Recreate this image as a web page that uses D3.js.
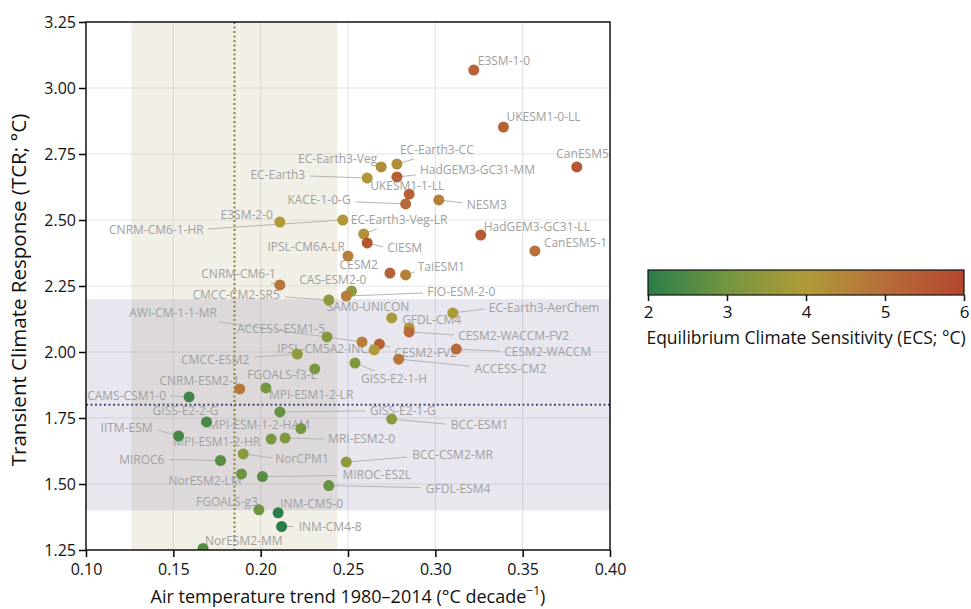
<!DOCTYPE html>
<html>
<head>
<meta charset="utf-8">
<script src="https://cdn.jsdelivr.net/npm/d3@7"></script>
<style>
  body { margin: 0; background: #fff; }
  text { font-family: "Open Sans", sans-serif; }
</style>
</head>
<body>
<div id="wrapper"></div>
<script>
const models = ["E3SM-1-0", "UKESM1-0-LL", "CanESM5", "EC-Earth3-CC", "EC-Earth3-Veg", "EC-Earth3",
  "HadGEM3-GC31-MM", "UKESM1-1-LL", "KACE-1-0-G", "NESM3", "HadGEM3-GC31-LL", "CanESM5-1",
  "E3SM-2-0", "CNRM-CM6-1-HR", "EC-Earth3-Veg-LR", "CIESM", "IPSL-CM6A-LR", "CESM2", "TaiESM1",
  "CNRM-CM6-1", "CAS-ESM2-0", "FIO-ESM-2-0", "CMCC-CM2-SR5", "EC-Earth3-AerChem", "SAM0-UNICON",
  "GFDL-CM4", "CESM2-WACCM-FV2", "ACCESS-ESM1-5", "AWI-CM-1-1-MR", "CESM2-FV2", "IPSL-CM5A2-INCA",
  "CESM2-WACCM", "CMCC-ESM2", "ACCESS-CM2", "GISS-E2-1-H", "FGOALS-f3-L", "CNRM-ESM2-1",
  "MPI-ESM1-2-LR", "CAMS-CSM1-0", "GISS-E2-1-G", "GISS-E2-2-G", "MPI-ESM-1-2-HAM", "BCC-ESM1",
  "IITM-ESM", "MPI-ESM1-2-HR", "MRI-ESM2-0", "NorCPM1", "MIROC6", "BCC-CSM2-MR", "NorESM2-LM",
  "MIROC-ES2L", "GFDL-ESM4", "FGOALS-g3", "INM-CM5-0", "INM-CM4-8", "NorESM2-MM"]

// air temperature trend 1980-2014 (degC per decade)
const airTrend = [0.322, 0.339, 0.381, 0.278, 0.269, 0.261,
  0.278, 0.285, 0.283, 0.302, 0.326, 0.357,
  0.211, 0.247, 0.259, 0.261, 0.250, 0.274, 0.283,
  0.211, 0.252, 0.249, 0.239, 0.310, 0.275,
  0.285, 0.285, 0.238, 0.258, 0.268, 0.265,
  0.312, 0.221, 0.279, 0.254, 0.231, 0.188,
  0.203, 0.159, 0.211, 0.169, 0.223, 0.275,
  0.153, 0.206, 0.214, 0.190, 0.177, 0.249, 0.189,
  0.201, 0.239, 0.199, 0.210, 0.212, 0.167]

// transient climate response (degC)
const tcr = [3.068, 2.852, 2.701, 2.712, 2.701, 2.659,
  2.663, 2.598, 2.561, 2.576, 2.443, 2.383,
  2.492, 2.500, 2.447, 2.413, 2.364, 2.299, 2.292,
  2.254, 2.231, 2.212, 2.197, 2.148, 2.129,
  2.091, 2.076, 2.057, 2.038, 2.030, 2.008,
  2.011, 1.992, 1.973, 1.958, 1.936, 1.860,
  1.864, 1.830, 1.773, 1.735, 1.710, 1.746,
  1.682, 1.670, 1.674, 1.614, 1.589, 1.583, 1.538,
  1.528, 1.494, 1.402, 1.391, 1.339, 1.256]

// equilibrium climate sensitivity (degC)
const ecs = [5.3, 5.3, 5.6, 4.3, 4.3, 4.1,
  5.4, 5.3, 5.1, 4.6, 5.5, 4.9,
  4.0, 4.1, 4.2, 5.6, 4.6, 5.3, 4.6,
  4.8, 3.5, 4.7, 3.4, 3.9, 3.9,
  4.1, 5.1, 3.3, 4.6, 5.3, 4.0,
  5.1, 3.5, 4.8, 3.2, 3.1, 4.8,
  3.0, 2.3, 2.8, 2.4, 3.0, 3.4,
  2.4, 3.1, 3.2, 3.4, 2.6, 3.5, 2.9,
  2.6, 2.8, 2.9, 2.0, 1.9, 2.6]

const xTicks = [0.10, 0.15, 0.20, 0.25, 0.30, 0.35, 0.40]
const yTicks = [1.25, 1.50, 1.75, 2.00, 2.25, 2.50, 2.75, 3.00, 3.25]
const ecsTicks = [2, 3, 4, 5, 6]
const ecsColors = ["#2b7e4c", "#74963f", "#b09a38", "#b86d3a", "#b4462f"]

const observedTrendRange = [0.126, 0.244]
const observedTrend = 0.185
const tcrRange = [1.40, 2.20]
const tcrBest = 1.80

// label placement relative to each marker (px): dx, dy, anchor, leader end dx, dy
const labelLayout = [
  [4, -9, "start"], [3, -10, "start"], [32, -13, "end"], [3, -14, "start", 17, -5],
  [-4, -8, "end"], [-62, -3, "end", -57, -2], [23, -7, "start", 19, -2], [-39, -8, "start"],
  [-55, -4, "end", -50, -2], [28, 5, "start", 24, 3], [3, -8, "start"], [9, -8, "start"],
  [-7, -7, "end"], [-139, 10, "end", -135, 9], [-13, -14, "start", 13, -5], [20, 5, "start", 16, 4],
  [-3, -9, "end"], [-12, -8, "end"], [12, -8, "start", 9, -3], [-4, -11, "end", -9, -2],
  [15, -11, "end"], [81, -4, "start", 77, -3], [-49, -5, "end", -44, -3], [36, -5, "start", 32, -4],
  [-65, -11, "start"], [-7, -8, "start"], [49, 4, "start", 45, 3], [-2, -8, "end"],
  [-145, -29, "end", -143, -20], [15, 9, "start", 11, 3], [-97, -1, "start"], [48, 3, "start", 44, 2],
  [-48, 6, "end", -43, 3], [76, 10, "start", 71, 7], [6, 16, "start", 20, 8], [2, 6, "end"],
  [0, -8, "end"], [3, 7, "start"], [-23, -1, "end", -19, -1], [90, -1, "start", 85, -1],
  [12, -11, "end"], [9, -4, "end"], [59, 6, "start", 54, 5], [-26, -8, "end", -21, -6],
  [-11, 3, "end"], [43, 1, "start", 40, 1], [32, 5, "start", 29, 4], [-56, -1, "end", -51, -1],
  [66, -7, "start", 61, -5], [0, 7, "end"], [80, -2, "start", 75, -1], [97, 3, "start", 92, 2],
  [-1, -8, "end"], [2, -9, "start"], [17, 0, "start", 12, 0], [2, -8, "start"]
]

function drawChart() {
    const dataset = models.map((m, i) => ({model: m, trend: airTrend[i], tcr: tcr[i], ecs: ecs[i], layout: labelLayout[i]}))
    const dimensions = createChartDimensions()
    const {svg, bounds} = drawCanvas(dimensions)
    const {xScale, yScale, colorScale} = createScales(dimensions)
    drawBands(xScale, yScale, bounds, dimensions)
    drawData(xScale, yScale, colorScale, bounds, dimensions, dataset)
    drawPeripherals(xScale, yScale, bounds, dimensions)
    drawColorbar(colorScale, svg)
}

function createChartDimensions() {
    let dimensions = {
        width: 971,
        height: 609,
        margin: {top: 22, right: 361, bottom: 59, left: 86},
    }
    dimensions.boundedWidth = dimensions.width - dimensions.margin.left - dimensions.margin.right
    dimensions.boundedHeight = dimensions.height - dimensions.margin.top - dimensions.margin.bottom
    return dimensions
}

function drawCanvas(dimensions) {
    const svg = d3.select("#wrapper")
        .append("svg")
        .attr("width", dimensions.width)
        .attr("height", dimensions.height)
    svg.append("defs").append("clipPath")
        .attr("id", "plot-clip")
        .append("rect")
        .attr("width", dimensions.boundedWidth)
        .attr("height", dimensions.boundedHeight)
    const bounds = svg.append("g")
        .attr("transform", `translate(${dimensions.margin.left},${dimensions.margin.top})`)
    return {svg, bounds}
}

function createScales(dimensions) {
    const xScale = d3.scaleLinear()
        .domain([0.10, 0.40])
        .range([0, dimensions.boundedWidth])
    const yScale = d3.scaleLinear()
        .domain([1.25, 3.25])
        .range([dimensions.boundedHeight, 0])
    const colorScale = d3.scaleLinear()
        .domain(ecsTicks)
        .range(ecsColors)
        .clamp(true)
    return {xScale, yScale, colorScale}
}

function drawBands(xScale, yScale, bounds, dimensions) {
    // grid first so the shading tints it
    bounds.append("g").selectAll("line")
        .data(xTicks.slice(1, -1))
        .join("line")
        .attr("x1", d => xScale(d)).attr("x2", d => xScale(d))
        .attr("y1", 0).attr("y2", dimensions.boundedHeight)
        .attr("stroke", "#e6e6e6").attr("stroke-width", 1.2)
    bounds.append("g").selectAll("line")
        .data(yTicks.slice(1, -1))
        .join("line")
        .attr("y1", d => yScale(d)).attr("y2", d => yScale(d))
        .attr("x1", 0).attr("x2", dimensions.boundedWidth)
        .attr("stroke", "#e6e6e6").attr("stroke-width", 1.2)

    bounds.append("rect")
        .attr("x", xScale(observedTrendRange[0]))
        .attr("width", xScale(observedTrendRange[1]) - xScale(observedTrendRange[0]))
        .attr("y", 0)
        .attr("height", dimensions.boundedHeight)
        .attr("fill", "rgba(200,188,150,0.24)")
    bounds.append("rect")
        .attr("x", 0)
        .attr("width", dimensions.boundedWidth)
        .attr("y", yScale(tcrRange[1]))
        .attr("height", yScale(tcrRange[0]) - yScale(tcrRange[1]))
        .attr("fill", "rgba(140,130,170,0.2)")

    bounds.append("line")
        .attr("x1", xScale(observedTrend)).attr("x2", xScale(observedTrend))
        .attr("y1", 0).attr("y2", dimensions.boundedHeight)
        .attr("stroke", "#8c8236").attr("stroke-width", 2)
        .attr("stroke-dasharray", "2,2.5")
    bounds.append("line")
        .attr("x1", 0).attr("x2", dimensions.boundedWidth)
        .attr("y1", yScale(tcrBest)).attr("y2", yScale(tcrBest))
        .attr("stroke", "#4b4878").attr("stroke-width", 2)
        .attr("stroke-dasharray", "2,2.5")
}

function drawData(xScale, yScale, colorScale, bounds, dimensions, dataset) {
    const layer = bounds.append("g").attr("clip-path", "url(#plot-clip)")
    const px = d => xScale(d.trend)
    const py = d => yScale(d.tcr)

    layer.append("g").selectAll("line")
        .data(dataset.filter(d => d.layout.length > 3))
        .join("line")
        .attr("x1", px)
        .attr("y1", py)
        .attr("x2", d => px(d) + d.layout[3])
        .attr("y2", d => py(d) + d.layout[4])
        .attr("stroke", "#b4b4b4")
        .attr("stroke-width", 1)

    layer.append("g").selectAll("text")
        .data(dataset)
        .join("text")
        .text(d => d.model)
        .attr("x", d => px(d) + d.layout[0])
        .attr("y", d => py(d) + d.layout[1])
        .attr("dy", "0.35em")
        .attr("text-anchor", d => d.layout[2])
        .attr("font-size", "12px")
        .attr("fill", "#a0a0a0")

    layer.append("g").selectAll("circle")
        .data(dataset)
        .join("circle")
        .attr("cx", px)
        .attr("cy", py)
        .attr("r", 5.5)
        .attr("fill", d => colorScale(d.ecs))
}

function drawPeripherals(xScale, yScale, bounds, dimensions) {
    const xAxis = bounds.append("g")
        .attr("transform", `translate(0,${dimensions.boundedHeight})`)
        .call(d3.axisBottom(xScale).tickValues(xTicks).tickFormat(d3.format(".2f")).tickSize(7).tickSizeOuter(0))
    const yAxis = bounds.append("g")
        .call(d3.axisLeft(yScale).tickValues(yTicks).tickFormat(d3.format(".2f")).tickSize(7).tickSizeOuter(0))
    for (const axis of [xAxis, yAxis]) {
        axis.select(".domain").remove()
        axis.selectAll(".tick line").attr("stroke", "#000").attr("stroke-width", 1.5)
        axis.selectAll(".tick text")
            .attr("font-family", "'Open Sans', sans-serif")
            .attr("font-size", "16px")
            .attr("fill", "#111")
    }
    xAxis.selectAll(".tick text").attr("dy", "0.95em")
    yAxis.selectAll(".tick text").attr("x", -10)

    bounds.append("rect")
        .attr("width", dimensions.boundedWidth)
        .attr("height", dimensions.boundedHeight)
        .attr("fill", "none")
        .attr("stroke", "#111")
        .attr("stroke-width", 1.5)

    const xLabel = bounds.append("text")
        .attr("x", dimensions.boundedWidth / 2)
        .attr("y", dimensions.boundedHeight + 53)
        .attr("text-anchor", "middle")
        .attr("font-size", "18px")
        .attr("fill", "#111")
    xLabel.append("tspan").text("Air temperature trend 1980–2014 (°C decade")
    xLabel.append("tspan").text("−1").attr("font-size", "12px").attr("baseline-shift", "super")
    xLabel.append("tspan").text(")")

    bounds.append("text")
        .attr("transform", `translate(${-60},${dimensions.boundedHeight / 2 + 4}) rotate(-90)`)
        .attr("text-anchor", "middle")
        .attr("font-size", "20.5px")
        .attr("fill", "#111")
        .text("Transient Climate Response (TCR; °C)")
}

function drawColorbar(colorScale, svg) {
    const bar = {x: 648, y: 270, width: 316, height: 25}
    const gradient = svg.select("defs").append("linearGradient")
        .attr("id", "ecs-gradient")
    gradient.selectAll("stop")
        .data(d3.range(0, 1.0001, 0.05))
        .join("stop")
        .attr("offset", d => d)
        .attr("stop-color", d => colorScale(2 + 4 * d))
    const g = svg.append("g").attr("transform", `translate(${bar.x},${bar.y})`)
    g.append("rect")
        .attr("width", bar.width)
        .attr("height", bar.height)
        .attr("fill", "url(#ecs-gradient)")
        .attr("stroke", "#111")
        .attr("stroke-width", 1.2)
    const cScale = d3.scaleLinear().domain([2, 6]).range([0, bar.width])
    const axis = g.append("g")
        .attr("transform", `translate(0,${bar.height})`)
        .call(d3.axisBottom(cScale).tickValues(ecsTicks).tickFormat(d3.format("d")).tickSize(6).tickSizeOuter(0))
    axis.select(".domain").remove()
    axis.selectAll(".tick line").attr("stroke", "#111").attr("stroke-width", 1.5)
    axis.selectAll(".tick text")
        .attr("font-family", "'Open Sans', sans-serif")
        .attr("font-size", "17px")
        .attr("fill", "#111")
        .attr("dy", "0.8em")
    g.append("text")
        .attr("x", bar.width / 2)
        .attr("y", 74)
        .attr("text-anchor", "middle")
        .attr("font-size", "17.5px")
        .attr("fill", "#111")
        .text("Equilibrium Climate Sensitivity (ECS; °C)")
}

drawChart()
</script>
</body>
</html>
